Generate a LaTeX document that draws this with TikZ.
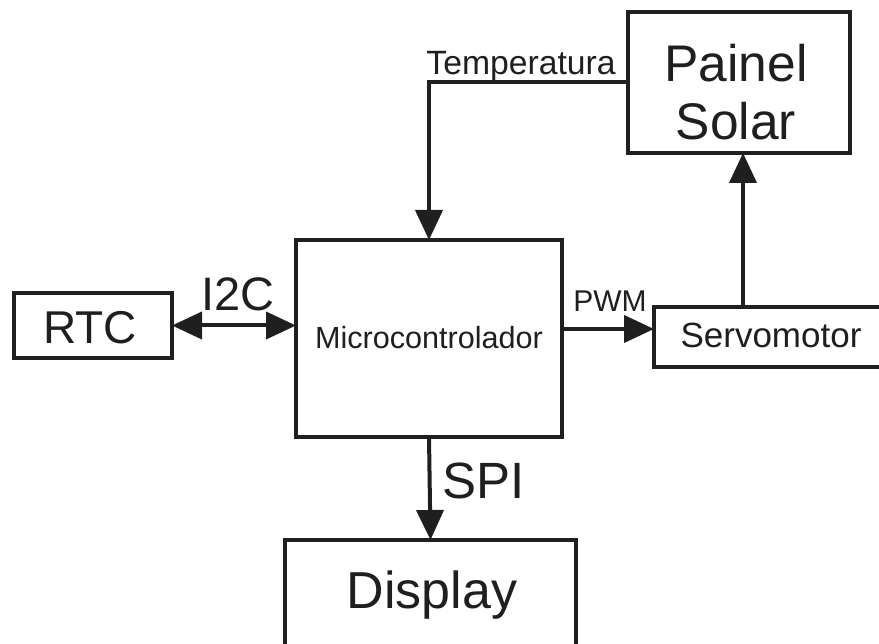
\documentclass[tikz,border=0pt]{standalone}
\usepackage{fontspec}
\setmainfont{Liberation Sans}
\usetikzlibrary{arrows.meta}
\begin{document}
\begin{tikzpicture}[x=1pt,y=-1pt,
  box/.style={draw=black!88, line width=4pt, inner sep=0pt, outer sep=0pt},
  arr/.style={draw=black!88, line width=4pt, -{Triangle[length=30pt,width=27pt]}},
  dblarr/.style={draw=black!88, line width=4pt, {Triangle[length=30pt,width=27pt]}-{Triangle[length=30pt,width=27pt]}},
  txt/.style={anchor=base, inner sep=0pt, text=black!88}]
\useasboundingbox (0,0) rectangle (879,644);
\clip (0,0) rectangle (879,644);
% boxes
\node[box, minimum width=222pt, minimum height=141pt] (painel) at (739,82.5) {};
\node[box, minimum width=266pt, minimum height=197pt] (micro) at (429,338.5) {};
\node[box, minimum width=158pt, minimum height=65pt] (rtc) at (93,325.5) {};
\node[box, minimum width=260pt, minimum height=60pt] (servo) at (784,337) {};
\node[box, minimum width=291pt, minimum height=160pt] (disp) at (430.5,620) {};
% texts
\node[txt, font=\fontsize{51.5}{58}\selectfont] (tpainel) at (736,82) {Painel};
\node[txt, font=\fontsize{51.5}{58}\selectfont] (tsolar) at (736,140) {Solar};
\node[txt, font=\fontsize{30.6}{36}\selectfont] (tmicro) at (429,349) {Microcontrolador};
\node[txt, font=\fontsize{46}{50}\selectfont] (trtc) at (90,344) {RTC};
\node[txt, font=\fontsize{35}{40}\selectfont] (tservo) at (771,348) {Servomotor};
\node[txt, font=\fontsize{52}{56}\selectfont] (tdisp) at (432,608) {Display};
\node[txt, font=\fontsize{33.7}{38}\selectfont] (ttemp) at (521,75) {Temperatura};
\node[txt, font=\fontsize{47}{50}\selectfont] (ti2c) at (238,311) {I2C};
\node[txt, font=\fontsize{30}{34}\selectfont] (tpwm) at (610,312) {PWM};
\node[txt, font=\fontsize{51}{56}\selectfont] (tspi) at (484,498) {SPI};
% connectors
\draw[arr] (painel.west) -| (micro.north);
\coordinate (up) at ([xshift=4pt]painel.south);
\draw[arr] (servo.north -| up) -- (up);
\draw[dblarr] (rtc.east) -- (rtc.east -| micro.west);
\coordinate (pwmS) at (micro.east |- 0,329);
\coordinate (pwmE) at (servo.west |- 0,329);
\draw[arr] (pwmS) -- (pwmE);
\draw[arr] (micro.south) -- (disp.north);
\end{tikzpicture}
\end{document}
